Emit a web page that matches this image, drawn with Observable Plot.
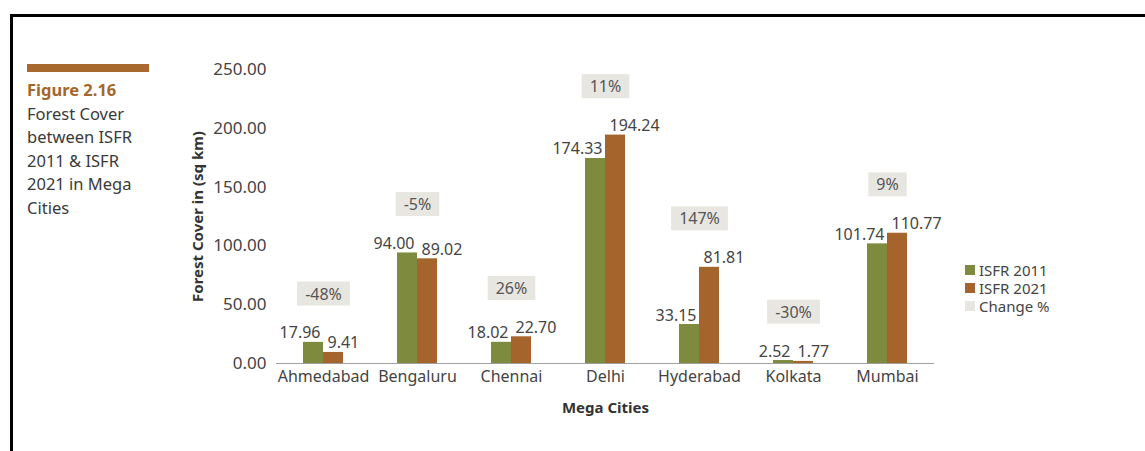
<!DOCTYPE html>
<html>
<head>
<meta charset="utf-8">
<script src="https://cdn.jsdelivr.net/npm/d3@7"></script>
<script src="https://cdn.jsdelivr.net/npm/@observablehq/plot@0.6"></script>
<style>
  html, body { margin: 0; padding: 0; background: #fff; }
  #wrap { position: relative; width: 1145px; height: 451px; overflow: hidden; font-family: "Noto Sans", sans-serif; }
  #frame { position: absolute; left: 10px; top: 14px; width: 1200px; height: 600px; border-top: 3px solid #000; border-left: 3px solid #000; }
  #titlebar { position: absolute; left: 27px; top: 64px; width: 122px; height: 8px; background: #a7692e; }
  #title { position: absolute; left: 27px; top: 78px; font-size: 16.5px; line-height: 23.5px; color: #3a3a3a; }
  #title .fig { color: #a5662c; font-weight: 700; }
  #legend { position: absolute; left: 965px; top: 261px; font-size: 15px; line-height: 18px; color: #444; }
  #legend .row { display: flex; align-items: center; }
  #legend .sw { width: 10px; height: 10px; margin-right: 4px; }
  #chart { position: absolute; left: 0; top: 0; }
  svg g[aria-label$="axis label"] text { font-weight: 700; fill: #333; font-size: 15px; }
  svg g[aria-label="y-axis tick label"] text { font-size: 17px; }
</style>
</head>
<body>
<div id="wrap">
  <div id="frame"></div>
  <div id="titlebar"></div>
  <div id="title"></div>
  <div id="chart"></div>
  <div id="legend"></div>
</div>
<script>
// ---- data ----
const cities = ["Ahmedabad", "Bengaluru", "Chennai", "Delhi", "Hyderabad", "Kolkata", "Mumbai"];
const isfr2011 = [17.96, 94.00, 18.02, 174.33, 33.15, 2.52, 101.74];
const isfr2021 = [9.41, 89.02, 22.70, 194.24, 81.81, 1.77, 110.77];
const changePct = ["-48%", "-5%", "26%", "11%", "147%", "-30%", "9%"];
const yTicks = [0, 50, 100, 150, 200, 250];
const seriesNames = ["ISFR 2011", "ISFR 2021", "Change %"];
const seriesColors = ["#7e8b3f", "#a5642b", "#e8e6e0"];
const titleLines = ["Forest Cover", "between ISFR", "2011 & ISFR", "2021 in Mega", "Cities"];
const figureLabel = "Figure 2.16";
const yLabel = "Forest Cover in (sq km)";
const xLabel = "Mega Cities";

// ---- tables ----
const bars = cities.flatMap((c, i) => [
  {city: c, series: seriesNames[0], value: isfr2011[i]},
  {city: c, series: seriesNames[1], value: isfr2021[i]}
]);
const changes = cities.map((c, i) => ({city: c, top: Math.max(isfr2011[i], isfr2021[i]), label: changePct[i]}));

// ---- title & legend ----
const title = document.getElementById("title");
title.innerHTML = `<div class="fig">${figureLabel}</div>` + titleLines.map(t => `<div>${t.replace("&", "&amp;")}</div>`).join("");
const legend = document.getElementById("legend");
legend.innerHTML = seriesNames.map((s, i) => `<div class="row"><span class="sw" style="background:${seriesColors[i]}"></span>${s}</div>`).join("");

// ---- chart ----
const chart = Plot.plot({
  width: 1145,
  height: 451,
  marginTop: 69,
  marginBottom: 88,
  marginLeft: 276,
  marginRight: 211,
  style: {fontFamily: "Noto Sans, sans-serif", fontSize: "16px", color: "#444", background: "transparent", overflow: "visible"},
  fx: {domain: cities, padding: 0, axis: "bottom", tickSize: 0, tickPadding: 7, label: xLabel, labelAnchor: "center", labelOffset: 49},
  x: {domain: seriesNames.slice(0, 2), axis: null, paddingInner: 0, paddingOuter: 1.35},
  y: {domain: [0, 250], ticks: yTicks, tickFormat: d => d.toFixed(2), tickSize: 0, tickPadding: 10,
      label: yLabel, labelAnchor: "center", labelOffset: 84, labelArrow: "none"},
  color: {domain: seriesNames.slice(0, 2), range: seriesColors.slice(0, 2)},
  marks: [
    Plot.barY(bars, {fx: "city", x: "series", y: "value", fill: "series"}),
    Plot.ruleY([0], {stroke: "#a0a0a0", strokeWidth: 1.2}),
    Plot.text(bars.filter(d => d.series === seriesNames[0]), {fx: "city", x: "series", y: "value", text: d => d.value.toFixed(2),
      textAnchor: "end", dx: 7, dy: -4, lineAnchor: "bottom", fill: "#444", fontSize: 16}),
    Plot.text(bars.filter(d => d.series === seriesNames[1]), {fx: "city", x: "series", y: "value", text: d => d.value.toFixed(2),
      textAnchor: "start", dx: -6, dy: -4, lineAnchor: "bottom", fill: "#444", fontSize: 16}),
    Plot.text(changes, {fx: "city", y: "top", text: "label", dy: -48, lineAnchor: "middle", fill: "#555", fontSize: 16, className: "change-label"})
  ]
});
document.getElementById("chart").appendChild(chart);

// backgrounds for change % labels
chart.querySelectorAll(".change-label text").forEach(t => {
  const b = t.getBBox();
  const r = document.createElementNS("http://www.w3.org/2000/svg", "rect");
  r.setAttribute("x", b.x - 8);
  r.setAttribute("y", b.y - 1);
  r.setAttribute("width", b.width + 16);
  r.setAttribute("height", b.height + 2);
  r.setAttribute("fill", seriesColors[2]);
  if (t.getAttribute("transform")) r.setAttribute("transform", t.getAttribute("transform"));
  t.parentNode.insertBefore(r, t);
});
</script>
</body>
</html>
